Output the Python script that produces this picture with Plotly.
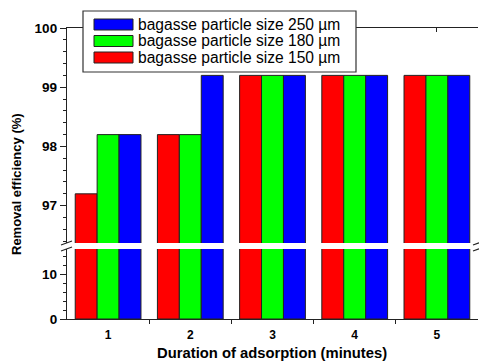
import plotly.graph_objects as go

minutes = [1, 2, 3, 4, 5]
tick_labels = ["1", "2", "3", "4", "5"]
series_names = ["bagasse particle size 150 µm",
                "bagasse particle size 180 µm",
                "bagasse particle size 250 µm"]
eff_150 = [97.2, 98.2, 99.2, 99.2, 99.2]
eff_180 = [98.2, 98.2, 99.2, 99.2, 99.2]
eff_250 = [98.2, 99.2, 99.2, 99.2, 99.2]
colors = ["#FF0000", "#00FF00", "#0000FF"]
series = [eff_150, eff_180, eff_250]

W, H = 479, 363
L, R, T, B = 67, 1, 28, 44
PW, PH = W - L - R, H - T - B


def px(x):
    return (x - L) / PW


def py(y):
    return (H - B - y) / PH


low_dom = [0, py(249)]
up_dom = [py(243), 1]
low_rng = [0, 15.66]
up_rng = [96.37, 100]

fig = go.Figure()
for name, vals, c in zip(series_names, series, colors):
    for xa, ya in (("x", "y"), ("x2", "y2")):
        fig.add_trace(go.Bar(x=minutes, y=vals, name=name, xaxis=xa, yaxis=ya,
                             marker=dict(color=c, line=dict(color="#222", width=1)),
                             showlegend=False))

axcol = "#222"
tickfont = dict(family="Liberation Sans, Arial", size=13.5, color="black", weight="bold")
fig.update_layout(
    width=W, height=H, margin=dict(l=L, r=R, t=T, b=B),
    paper_bgcolor="white", plot_bgcolor="white",
    barmode="group", bargap=0.2, bargroupgap=0,
    font=dict(family="Liberation Sans, Arial", color="black"),
    xaxis=dict(domain=[0, 1], anchor="y", range=[0.5, 5.5], tickvals=minutes, ticktext=tick_labels,
               ticks="", showline=True, linecolor=axcol, linewidth=1.3, showgrid=False, zeroline=False,
               tickfont=dict(family="Liberation Sans, Arial", size=12, color="black", weight="bold"),
               ticklabelstandoff=4,
               minor=dict(tickvals=[1.5, 2.5, 3.5, 4.5], ticks="outside", ticklen=4,
                          tickcolor=axcol, tickwidth=1, showgrid=False)),
    xaxis2=dict(matches="x", anchor="y2", side="top", range=[0.5, 5.5], tickvals=minutes,
                ticks="inside", ticklen=4, tickcolor=axcol, showticklabels=False,
                showline=True, linecolor=axcol, linewidth=1.3, showgrid=False, zeroline=False),
    yaxis=dict(domain=low_dom, range=low_rng, anchor="x", tickvals=[0, 10], ticks="outside",
               ticklen=6, tickcolor=axcol, tickwidth=1, showline=True, linecolor=axcol, linewidth=1.3,
               showgrid=False, zeroline=False, tickfont=tickfont,
               minor=dict(dtick=2, tick0=0, ticks="outside", ticklen=3, tickcolor=axcol, showgrid=False)),
    yaxis2=dict(domain=up_dom, range=up_rng, anchor="x2", tickvals=[97, 98, 99, 100], ticks="outside",
                ticklen=6, tickcolor=axcol, tickwidth=1, showline=True, linecolor=axcol, linewidth=1.3,
                showgrid=False, zeroline=False, tickfont=tickfont,
                minor=dict(dtick=0.2, tick0=96, ticks="outside", ticklen=3, tickcolor=axcol, showgrid=False)),
    yaxis3=dict(overlaying="y", side="right", anchor="x", range=low_rng, tickvals=[0, 10], ticks="inside",
                ticklen=6, tickcolor=axcol, showticklabels=False, showline=True, linecolor=axcol,
                linewidth=1.3, showgrid=False, zeroline=False,
                minor=dict(dtick=2, tick0=0, ticks="inside", ticklen=3, tickcolor=axcol, showgrid=False)),
    yaxis4=dict(overlaying="y2", side="right", anchor="x2", range=up_rng, tickvals=[97, 98, 99, 100],
                ticks="inside", ticklen=6, tickcolor=axcol, showticklabels=False, showline=True,
                linecolor=axcol, linewidth=1.3, showgrid=False, zeroline=False,
                minor=dict(dtick=0.2, tick0=96, ticks="inside", ticklen=3, tickcolor=axcol, showgrid=False)),
)

shapes = []
# axis break marks
for (x0, x1) in ((61, 72), (473, 479)):
    for yb in (251, 245):
        shapes.append(dict(type="line", xref="paper", yref="paper",
                           x0=px(x0), x1=px(x1), y0=py(yb), y1=py(yb - 4 * (x1 - x0) / 11),
                           line=dict(color=axcol, width=1.2)))

# custom legend box
shapes.append(dict(type="rect", xref="paper", yref="paper", x0=px(83), x1=px(356),
                   y0=py(72), y1=py(11), fillcolor="white", line=dict(color="#333", width=1.2),
                   layer="above"))
annotations = []
legend_order = [2, 1, 0]
row_centers = [24.5, 41, 57.5]
for idx, yc in zip(legend_order, row_centers):
    shapes.append(dict(type="rect", xref="paper", yref="paper", x0=px(94), x1=px(133),
                       y0=py(yc + 5.5), y1=py(yc - 5.5), fillcolor=colors[idx],
                       line=dict(color="#222", width=1), layer="above"))
    annotations.append(dict(text=series_names[idx], xref="paper", yref="paper", x=px(135.5), y=py(yc),
                            xanchor="left", yanchor="middle", showarrow=False,
                            font=dict(family="Liberation Sans, Arial", size=15.6, color="black")))

annotations.append(dict(text="<b>Removal efficiency (%)</b>", xref="paper", yref="paper",
                        x=px(16), y=py(184), textangle=-90, showarrow=False,
                        xanchor="center", yanchor="middle",
                        font=dict(family="Liberation Sans, Arial", size=13, color="black")))
annotations.append(dict(text="<b>Duration of adsorption (minutes)</b>", xref="paper", yref="paper",
                        x=px(272), y=py(353), showarrow=False, xanchor="center", yanchor="middle",
                        font=dict(family="Liberation Sans, Arial", size=14.8, color="black")))

fig.update_layout(shapes=shapes, annotations=annotations)
fig.write_html("out.html", config={"displayModeBar": False},
               post_script="document.body.style.margin='0';")
